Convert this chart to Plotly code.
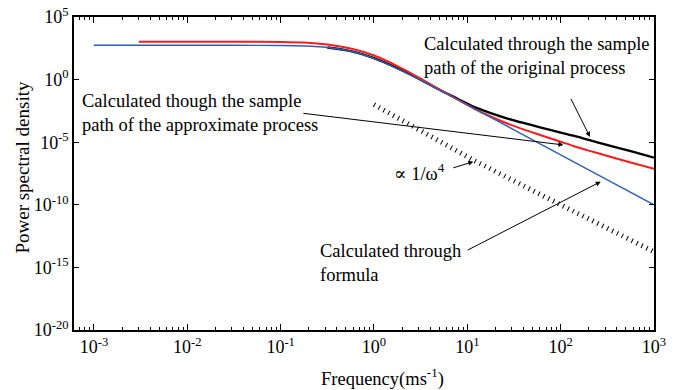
import numpy as np
import plotly.graph_objects as go

# ---- data (log10 values) ----
formula_logf = [-3, -2, -1.5, -1, -0.75, -0.5, -0.25, 0, 0.25, 0.5, 0.75, 1, 1.5, 2, 2.5, 3]
formula_logS = [2.74, 2.74, 2.74, 2.72, 2.68, 2.56, 2.26, 1.69, 0.88, -0.04, -1.02, -2.01, -4.01, -6.01, -8.01, -10.0]

approx_logf = [-2.52, -2, -1.5, -1, -0.75, -0.5, -0.25, 0, 0.25, 0.5, 0.707, 0.9, 1.064, 1.25, 1.422,
               1.6, 1.779, 2.0, 2.136, 2.3, 2.494, 2.75, 3.0]
approx_logS = [3.03, 3.03, 3.03, 3.01, 2.96, 2.80, 2.48, 1.92, 1.08, 0.08, -0.82, -1.62, -2.29, -2.95, -3.49,
               -3.98, -4.42, -4.96, -5.30, -5.67, -6.08, -6.62, -7.12]

orig_logf = [-0.5, -0.25, 0, 0.25, 0.5, 0.707, 0.9, 1.064, 1.25, 1.422,
             1.6, 1.779, 2.0, 2.136, 2.3, 2.494, 2.75, 3.0]
orig_logS = [2.56, 2.27, 1.72, 0.92, 0.0, -0.83, -1.55, -2.16, -2.68, -3.09,
             -3.46, -3.81, -4.23, -4.48, -4.82, -5.22, -5.72, -6.24]

slope_logf = [0, 1.07, 2.0, 3.0]
slope_logS = [-2.0, -6.45, -10.0, -13.75]

x_tick_exp = [-3, -2, -1, 0, 1, 2, 3]
y_tick_exp = [5, 0, -5, -10, -15, -20]

FONT = "Liberation Serif, Times New Roman, Times, DejaVu Serif, serif"


def p10(v):
    return np.power(10.0, np.array(v, dtype=float))


fig = go.Figure()
fig.add_trace(go.Scatter(x=p10(orig_logf), y=p10(orig_logS), mode="lines",
                         line=dict(color="#000000", width=2.4, shape="spline", smoothing=0.8)))
fig.add_trace(go.Scatter(x=p10(approx_logf), y=p10(approx_logS), mode="lines",
                         line=dict(color="#ff1a1a", width=2.0, shape="spline", smoothing=0.8)))
fig.add_trace(go.Scatter(x=p10(formula_logf), y=p10(formula_logS), mode="lines",
                         line=dict(color="#2f5fb5", width=1.4, shape="spline", smoothing=0.8)))
fig.add_trace(go.Scatter(x=p10(slope_logf), y=p10(slope_logS), mode="lines",
                         line=dict(color="#000000", width=5, dash="1px,4.5px")))

minor_vals = [m * 10.0 ** e for e in range(-4, 3) for m in range(2, 10)]

fig.update_xaxes(type="log", range=[-3.214, 3.0], automargin=False,
                 tickvals=[10.0 ** e for e in x_tick_exp],
                 ticktext=["10<sup>%d</sup>" % e for e in x_tick_exp],
                 ticks="inside", ticklen=6, tickwidth=1, tickcolor="black",
                 minor=dict(tickvals=minor_vals, ticks="inside", ticklen=3.5, tickwidth=1, tickcolor="black",
                            showgrid=False),
                 showline=True, linecolor="black", linewidth=1.5, mirror="ticks",
                 showgrid=False, zeroline=False,
                 tickfont=dict(family=FONT, size=18, color="black"))
fig.update_yaxes(type="log", range=[-20, 5], automargin=False,
                 tickvals=[10.0 ** e for e in y_tick_exp],
                 ticktext=["10<sup>%d</sup>" % e for e in y_tick_exp],
                 ticks="inside", ticklen=5, tickwidth=1, tickcolor="black",
                 showline=True, linecolor="black", linewidth=1.5, mirror="ticks",
                 showgrid=False, zeroline=False,
                 tickfont=dict(family=FONT, size=18, color="black"))

ann_font = dict(family=FONT, size=18.5, color="black")
arrow = dict(showarrow=True, arrowhead=2, arrowsize=1, arrowwidth=1, arrowcolor="black",
             xref="x", yref="y", text=" ")

annotations = [
    dict(text="Calculated through the sample<br>path of the original process", xref="paper", yref="paper",
         x=0.6, y=0.875, xanchor="left", yanchor="middle", align="left", showarrow=False, font=ann_font),
    dict(text="Calculated though the sample<br>path of the approximate process", xref="paper", yref="paper",
         x=0.0103, y=0.693, xanchor="left", yanchor="middle", align="left", showarrow=False, font=ann_font),
    dict(text="\u221d 1/\u03c9<sup>4</sup>", xref="paper", yref="paper",
         x=0.548, y=0.505, xanchor="left", yanchor="middle", align="left", showarrow=False, font=ann_font),
    dict(text="Calculated through<br>formula", xref="paper", yref="paper",
         x=0.421, y=0.214, xanchor="left", yanchor="middle", align="left", showarrow=False, font=ann_font),
    dict(text="Frequency(ms<sup>-1</sup>)", xref="paper", yref="paper",
         x=0.532, y=-0.153, xanchor="center", yanchor="middle", showarrow=False, font=ann_font),
    dict(text="Power spectral density", xref="paper", yref="paper", textangle=-90,
         x=-0.088, y=0.522, xanchor="center", yanchor="middle", showarrow=False,
         font=dict(family=FONT, size=19, color="black")),
    dict(arrow, x=2.314, y=-4.58, ax=-22, ay=-44),
    dict(arrow, x=2.029, y=-5.22, ax=-263, ay=-32),
    dict(arrow, x=1.064, y=-6.56, ax=-23, ay=7),
    dict(arrow, x=2.429, y=-8.15, ax=-136, ay=70),
]
fig.update_layout(width=684, height=390, margin=dict(l=74, r=30, t=17, b=60, autoexpand=False),
                  paper_bgcolor="white", plot_bgcolor="white", showlegend=False,
                  annotations=annotations)
fig.write_html("out.html", config={"displayModeBar": False},
               post_script="document.body.style.margin='0';document.body.style.overflow='hidden';")
